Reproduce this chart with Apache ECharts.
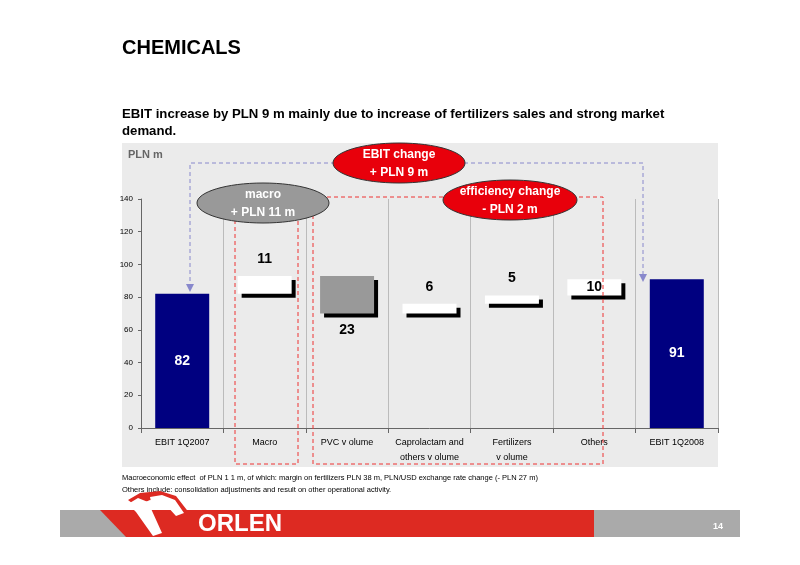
<!DOCTYPE html><html><head><meta charset="utf-8"><script src="https://cdn.jsdelivr.net/npm/echarts@6/dist/echarts.min.js"></script>
<style>body{margin:0;background:#fff}#c{width:800px;height:565px}</style></head><body><div id="c"></div><script>
const categories=['EBIT 1Q2007','Macro','PVC v olume','Caprolactam and\nothers v olume','Fertilizers\nv olume','Others','EBIT 1Q2008'];
const baseValues=[0,82,70,70,76,81,0];
const deltaValues=[82,11,23,6,5,10,91];
const labelTexts=['82','11','23','6','5','10','91'];
const yTicks=[0,20,40,60,80,100,120,140];
const chart=echarts.init(document.getElementById('c'));
const shadow={shadowColor:'#000',shadowBlur:0,shadowOffsetX:4,shadowOffsetY:4};
const styles=[
 {color:'#000080'},
 Object.assign({color:'#fff'},shadow),
 Object.assign({color:'#999'},shadow),
 Object.assign({color:'#fff'},shadow),
 Object.assign({color:'#fff'},shadow),
 Object.assign({color:'#fff'},shadow),
 {color:'#000080'}];
const labelPos=[['inside','#fff'],['top','#000'],['bottom','#000'],['top','#000'],['top','#000'],['inside','#000'],['inside','#fff']];
const ell=(cx,cy,rx,ry,fill)=>({type:'ellipse',shape:{cx,cy,rx,ry},style:{fill,stroke:'#333',lineWidth:1},z:10});
const etext=(x,y,t)=>({type:'text',x,y,style:{text:t,fill:'#fff',font:'bold 12px Arial',textAlign:'center',textVerticalAlign:'middle'},z:11});
chart.setOption({
 animation:false,
 grid:{left:141,right:82,top:199,bottom:137},
 xAxis:{type:'category',data:categories,axisTick:{show:true,alignWithLabel:false,lineStyle:{color:'#666'}},axisLine:{lineStyle:{color:'#666'}},
   splitLine:{show:true,lineStyle:{color:'#bbb'}},axisLabel:{color:'#000',fontSize:9,fontFamily:'Arial',lineHeight:15,interval:0,margin:7}},
 yAxis:{type:'value',min:0,max:140,interval:20,axisLine:{show:true,lineStyle:{color:'#666'}},axisTick:{show:true,length:3},splitLine:{show:false},
   axisLabel:{color:'#000',fontSize:8,fontFamily:'Arial',formatter:v=>yTicks.includes(v)?String(v):''}},
 series:[
  {type:'bar',stack:'w',data:baseValues,itemStyle:{color:'transparent'},barWidth:54,silent:true},
  {type:'bar',stack:'w',barWidth:54,data:deltaValues.map((v,i)=>({value:v,itemStyle:styles[i],
     label:{show:true,formatter:labelTexts[i],position:labelPos[i][0],color:labelPos[i][1],fontSize:14,fontWeight:'bold',fontFamily:'Arial',distance:10}}))}
 ],
 graphic:[
  {type:'rect',shape:{x:122,y:143,width:596,height:324},style:{fill:'#ebebeb'},z:-10,silent:true},
  {type:'text',x:122,y:38,style:{text:'CHEMICALS',font:'bold 20px Arial',fill:'#000'}},
  {type:'text',x:122,y:106,style:{text:'EBIT increase by PLN 9 m mainly due to increase of fertilizers sales and strong market\ndemand.',font:'bold 13.2px Arial',fill:'#000',lineHeight:17}},
  {type:'text',x:128,y:149,style:{text:'PLN m',font:'bold 11px Arial',fill:'#666'}},
  {type:'polyline',shape:{points:[[190,288],[190,163],[643,163],[643,278]]},style:{stroke:'#88c',lineWidth:1,lineDash:[4,3],fill:null},z:5},
  {type:'polygon',shape:{points:[[186,284],[194,284],[190,292]]},style:{fill:'#88c'},z:5},
  {type:'polygon',shape:{points:[[639,274],[647,274],[643,282]]},style:{fill:'#88c'},z:5},
  {type:'rect',shape:{x:235,y:207,width:63,height:257},style:{fill:null,stroke:'#e33',lineWidth:1,lineDash:[4,3]},z:5},
  {type:'rect',shape:{x:313,y:197,width:290,height:267},style:{fill:null,stroke:'#e33',lineWidth:1,lineDash:[4,3]},z:5},
  ell(399,163,66,20,'#e8000b'),etext(399,155,'EBIT change'),etext(399,173,'+ PLN 9 m'),
  ell(263,203,66,20,'#999'),etext(263,195,'macro'),etext(263,213,'+ PLN 11 m'),
  ell(510,200,67,20,'#e8000b'),etext(510,192,'efficiency change'),etext(510,210,'- PLN 2 m'),
  {type:'text',x:122,y:472,style:{text:'Macroeconomic effect  of PLN 1 1 m, of which: margin on fertilizers PLN 38 m, PLN/USD exchange rate change (- PLN 27 m)\nOthers include: consolidation adjustments and result on other operational activity.',font:'7.5px Arial',fill:'#000',lineHeight:12}},
  {type:'rect',shape:{x:60,y:510,width:680,height:27},style:{fill:'#aaa'}},
  {type:'polygon',shape:{points:[[100,510],[594,510],[594,537],[126,537]]},style:{fill:'#dd2a22'}},
  {type:'polygon',shape:{points:[[128,500],[140,493],[160,491],[176,496],[190,514],[178,518],[166,502],[150,500],[136,506]]},style:{fill:'#dd2a22'}},
  {type:'polygon',shape:{points:[[128,504],[138,498],[148,502],[162,533],[153,536],[136,512]]},style:{fill:'#fff'}},
  {type:'polygon',shape:{points:[[150,497],[162,495],[175,500],[184,513],[176,516],[166,505],[152,506]]},style:{fill:'#fff'}},
  {type:'text',x:198,y:524,style:{text:'ORLEN',font:'bold 24px Arial',fill:'#fff',textVerticalAlign:'middle'}},
  {type:'text',x:718,y:527,style:{text:'14',font:'bold 9px Arial',fill:'#fff',textAlign:'center',textVerticalAlign:'middle'}}
 ]
});
</script></body></html>
